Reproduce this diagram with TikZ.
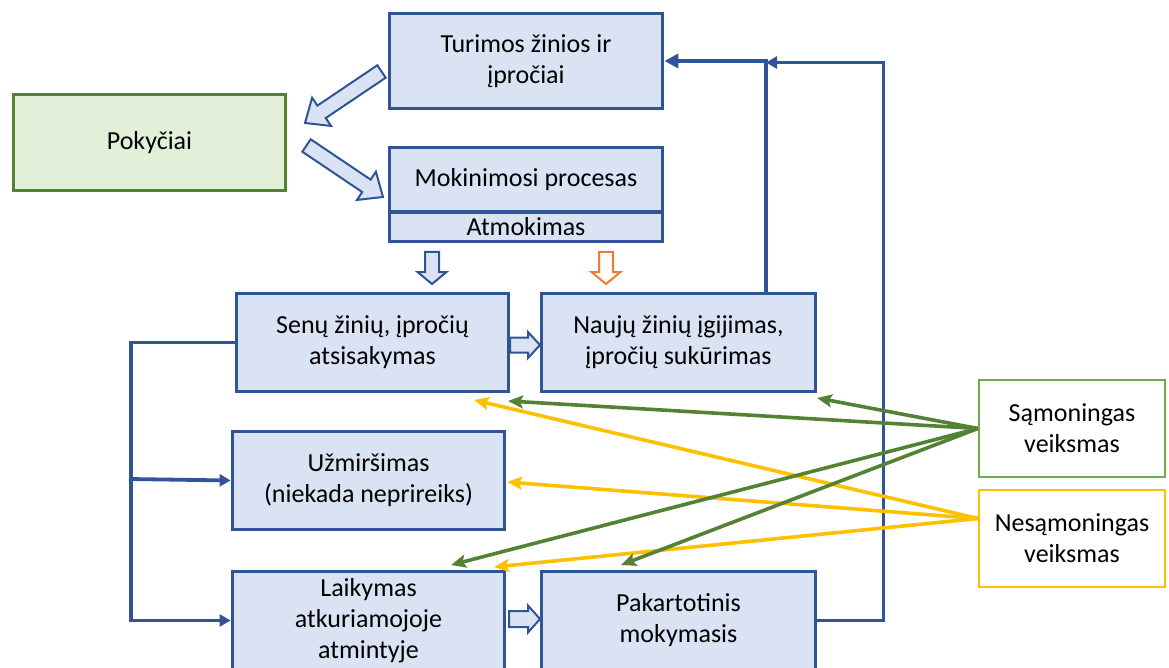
\documentclass[tikz,border=0pt]{standalone}
\usepackage{fontspec}
\setmainfont{Carlito}
\usetikzlibrary{arrows.meta,calc}

\definecolor{bline}{HTML}{2F5597}
\definecolor{bfill}{HTML}{DAE3F3}
\definecolor{gline}{HTML}{548235}
\definecolor{gfill}{HTML}{E2F0D9}
\definecolor{lgreen}{HTML}{70AD47}
\definecolor{gold}{HTML}{FFC000}
\definecolor{orng}{HTML}{ED7D31}

% hollow block arrow: from, to, shaft half width, head half width, head length, style
\newcommand\blkarrow[6]{%
  \begin{scope}
    \coordinate (hb) at ($(#2)!#5!(#1)$);
    \draw[#6] ($(#1)!#3!90:(#2)$) -- ($(hb)!#3!-90:(#1)$) -- ($(hb)!#4!-90:(#1)$)
      -- (#2) -- ($(hb)!#4!90:(#1)$) -- ($(hb)!#3!90:(#1)$) -- ($(#1)!#3!-90:(#2)$) -- cycle;
  \end{scope}}

\tikzset{
  txt/.style={font=\fontsize{26}{31}\selectfont, align=center, inner sep=0pt},
  box/.style={txt, draw=bline, fill=bfill, line width=3.8pt},
  actbox/.style={txt, fill=white, line width=1.8pt},
  flow/.style={draw=bline, line width=3.8pt},
  tipA/.style={-{Triangle[length=14pt,width=14pt]}},
  tipB/.style={-{Triangle[length=11pt,width=12pt]}},
  act/.style={line width=3.6pt, -{Stealth[length=15pt,width=13pt,inset=3pt]}},
  hollow/.style={draw=bline, fill=bfill, line width=2pt, line join=miter},
}

\begin{document}
\begin{tikzpicture}[x=1pt,y=-1pt]
\useasboundingbox (0,0) rectangle (1169,668);

% boxes
\node[box, minimum width=273pt, minimum height=95pt] (tur) at (526,61) {Turimos žinios ir\\įpročiai};
\node[txt, draw=gline, fill=gfill, line width=3.8pt, minimum width=272pt, minimum height=96pt] (pok) at (149.5,142.5) {Pokyčiai};
\node[box, minimum width=273pt, minimum height=64.5pt] (mok) at (526,179.75) {Mokinimosi procesas};
\node[box, minimum width=273pt, minimum height=29.5pt] (atm) at (526,226.75) {Atmokimas};
\node[box, minimum width=272pt, minimum height=98pt] (sen) at (372.5,342.5) {Senų žinių, įpročių\\atsisakymas};
\node[box, minimum width=274pt, minimum height=98pt] (nau) at (678.5,342.5) {Naujų žinių įgijimas,\\įpročių sukūrimas};
\node[box, minimum width=272pt, minimum height=98pt] (uzm) at (368.5,480.5) {Užmiršimas\\(niekada neprireiks)};
\node[box, minimum width=272pt, minimum height=98pt] (lai) at (368.5,620.5) {Laikymas\\atkuriamojoje\\atmintyje};
\node[box, minimum width=274pt, minimum height=98pt] (pak) at (678.5,620.5) {Pakartotinis\\mokymasis};
\node[actbox, draw=lgreen, minimum width=186.5pt, minimum height=97.5pt] (sam) at (1072,428.5) {Sąmoningas\\veiksmas};
\node[actbox, draw=gold, minimum width=186.5pt, minimum height=97.5pt] (nes) at (1072,538.5) {Nesąmoningas\\veiksmas};

% hollow block arrows
\coordinate (a1s) at (381.5,71.5);  \coordinate (a1e) at (305,123);
\coordinate (a2s) at (306.5,145.5); \coordinate (a2e) at (383,197);
\coordinate (a3s) at (432,252);     \coordinate (a3e) at (432,284);
\coordinate (a4s) at (606,252);     \coordinate (a4e) at (606,284);
\coordinate (a5s) at (510,345);     \coordinate (a5e) at (540,345);
\coordinate (a6s) at (509,619);     \coordinate (a6e) at (540,619);
\blkarrow{a1s}{a1e}{7.5pt}{17pt}{20pt}{hollow}
\blkarrow{a2s}{a2e}{7.5pt}{17pt}{20pt}{hollow}
\blkarrow{a3s}{a3e}{7pt}{14.5pt}{12pt}{hollow}
\blkarrow{a4s}{a4e}{7pt}{14.5pt}{12pt}{hollow, draw=orng, fill=white}
\blkarrow{a5s}{a5e}{7.5pt}{13pt}{12pt}{hollow}
\blkarrow{a6s}{a6e}{8pt}{13.5pt}{12pt}{hollow}

% left bracket: forgetting or keeping
\coordinate (br) at (129,479);
\draw[flow, tipB] (sen.west) -- ++(-104,0) |- (lai.west);
\draw[flow, tipB] (br) -- (uzm.west);

% feedback to existing knowledge
\coordinate (jn) at (766,62.5);
\draw[flow, line width=4.8pt, tipA] ([xshift=87.5pt]nau.north) |- (tur.east);
\draw[flow, tipB] (pak.east) -- ++(66,0) |- (jn);

% conscious / unconscious action links
\coordinate (gs) at (sam.west);
\coordinate (ys) at ([yshift=20pt]nes.west);
\coordinate (g1) at (508,401);
\coordinate (g2) at (817,398);
\coordinate (g3) at (451,565);
\coordinate (g4) at (621,565);
\coordinate (y1) at (474,400);
\coordinate (y2) at (507,482);
\coordinate (y3) at (494,567);
\draw[act, draw=gold, fill=gold] (ys) -- (y1);
\draw[act, draw=gold, fill=gold] (ys) -- (y2);
\draw[act, draw=gold, fill=gold] (ys) -- (y3);
\draw[act, draw=gline, fill=gline] (gs) -- (g1);
\draw[act, draw=gline, fill=gline] (gs) -- (g2);
\draw[act, draw=gline, fill=gline] (gs) -- (g3);
\draw[act, draw=gline, fill=gline] (gs) -- (g4);
\end{tikzpicture}
\end{document}
